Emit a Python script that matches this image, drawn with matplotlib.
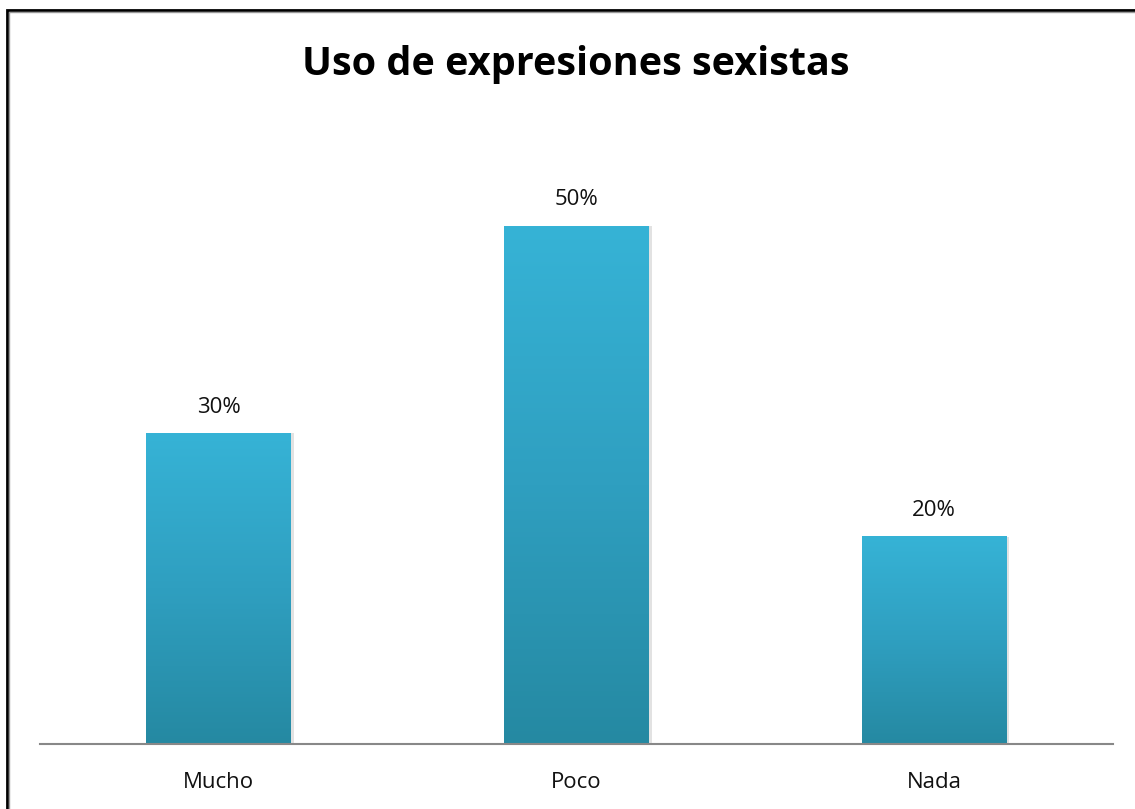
import numpy as np
import matplotlib
matplotlib.use("Agg")
import matplotlib.pyplot as plt
from matplotlib.colors import LinearSegmentedColormap
from matplotlib.patches import Rectangle

categories = ["Mucho", "Poco", "Nada"]
values = [0.30, 0.50, 0.20]
value_labels = ["30%", "50%", "20%"]

plt.rcParams['font.family'] = ['Open Sans', 'DejaVu Sans']

fig = plt.figure(figsize=(11.35, 8.09), dpi=100)
ax = fig.add_axes([40 / 1135, 65 / 809, 1073 / 1135, 621.6 / 809])

x = np.arange(len(categories))
bars = ax.bar(x, values, width=0.405, color="none", edgecolor="none", zorder=2)

cmap = LinearSegmentedColormap.from_list("bar", ["#2589A2", "#2F9FC0", "#36B3D6"])
grad = np.linspace(0, 1, 256).reshape(-1, 1)
for i, b in enumerate(bars):
    x0, w, h = b.get_x(), b.get_width(), b.get_height()
    ax.imshow(grad, cmap=cmap, aspect="auto", origin="lower",
              extent=[x0, x0 + w, 0, h], zorder=2)
    # slight shadow on the right
    ax.add_patch(Rectangle((x0 + w, 0), 0.008, h, color="#e2e2e2", zorder=1, lw=0))
    ax.text(x0 + w / 2, h + 0.015, value_labels[i],
            ha="center", va="bottom", fontsize=16, color="#111111")

ax.set_xlim(-0.5, 2.5)
ax.set_ylim(0, 0.6)
ax.set_yticks([])
ax.set_xticks(x)
ax.set_xticklabels(categories, fontsize=16, color="#111111")
ax.tick_params(axis="x", length=0, pad=20)
for s in ["top", "right", "left"]:
    ax.spines[s].set_visible(False)
ax.spines["bottom"].set_color("#888888")
ax.spines["bottom"].set_linewidth(1.5)

fig.text(576 / 1135, 1 - 64 / 809, "Uso de expresiones sexistas",
         ha="center", va="center", fontsize=28.5, fontweight="bold")

# chart border
fig.patches.append(Rectangle((7 / 1135, -0.1), 1.2, 1 - 10 / 809 + 0.1,
                             transform=fig.transFigure, fill=False,
                             edgecolor="black", linewidth=2))
fig.patches.append(Rectangle((9 / 1135, -0.1), 1.2, 1 - 12 / 809 + 0.1,
                             transform=fig.transFigure, fill=False,
                             edgecolor="#999999", linewidth=1))

fig.savefig("out.png", dpi=100)
